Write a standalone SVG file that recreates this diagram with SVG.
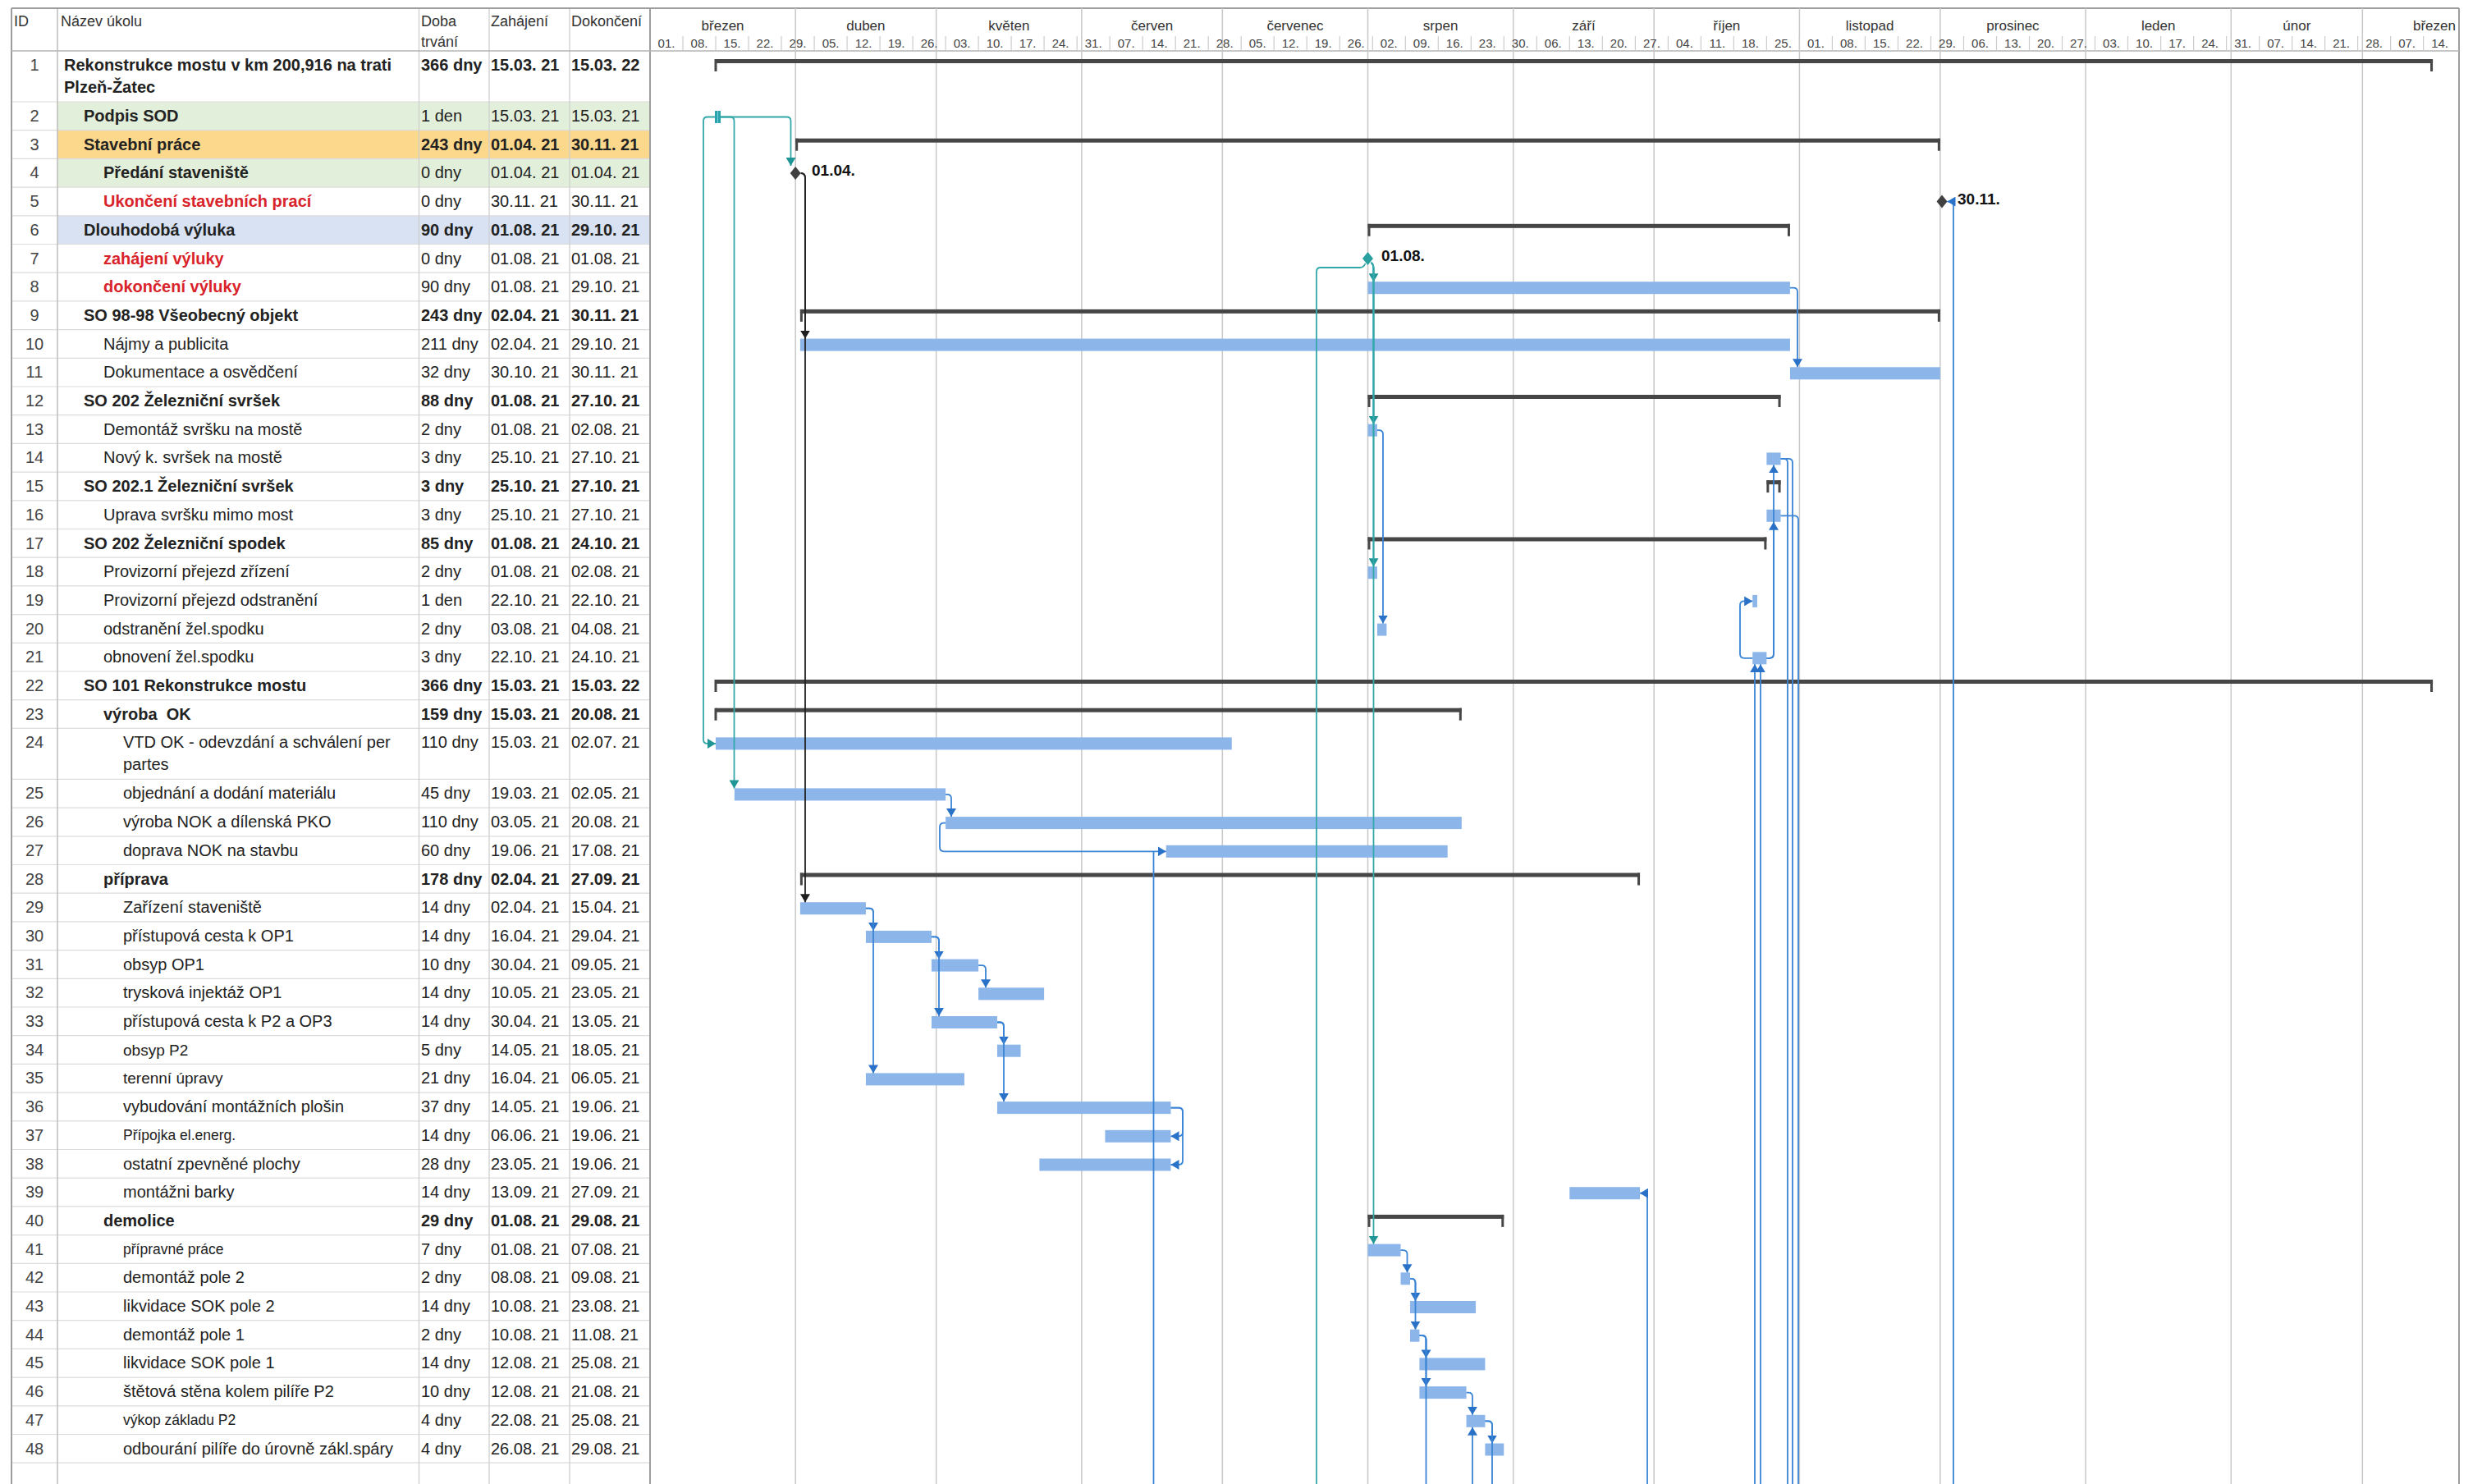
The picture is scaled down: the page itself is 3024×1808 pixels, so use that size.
<svg xmlns="http://www.w3.org/2000/svg" width="3024" height="1808" viewBox="0 0 3024 1808">
<style>
text{font-family:'Liberation Sans',Arial,'DejaVu Sans',sans-serif;fill:#222}
.t{font-size:20px}
.b{font-weight:bold}
.r{fill:#d9232b}
.sm{font-size:17.5px}
.id{text-anchor:middle;fill:#444}
.hd{font-size:18px;fill:#333}
.mo{font-size:17px;text-anchor:middle;fill:#333}
.wk{font-size:15px;text-anchor:middle;fill:#444}
.ml{font-size:19px;font-weight:bold;fill:#111}
.bar{fill:#8cb6ea}
.sum{fill:#464646}
.grid{stroke:#c8c8c8;stroke-width:1.5;fill:none}
.sep{stroke:#dcdcdc;stroke-width:1.2;fill:none}
.col{stroke:#cfcfcf;stroke-width:1.3;fill:none}
.brd{stroke:#9e9e9e;stroke-width:2;fill:none}
.c{fill:none;stroke-width:1.8}
.ct{stroke:#33a8aa}
.cb{stroke:#3a84d6}
.ck{stroke:#222}
</style>
<defs>
<marker id="aT" markerUnits="userSpaceOnUse" markerWidth="11" markerHeight="12" refX="10" refY="6" orient="auto"><path d="M0,0 L10,6 L0,12 z" fill="#1f9596"/></marker>
<marker id="aB" markerUnits="userSpaceOnUse" markerWidth="11" markerHeight="12" refX="10" refY="6" orient="auto"><path d="M0,0 L10,6 L0,12 z" fill="#2a72c8"/></marker>
<marker id="aK" markerUnits="userSpaceOnUse" markerWidth="11" markerHeight="12" refX="10" refY="6" orient="auto"><path d="M0,0 L10,6 L0,12 z" fill="#1e1e1e"/></marker>
</defs>
<rect x="0" y="0" width="3024" height="1808" fill="#ffffff"/>

<g id="row-backgrounds">
<rect x="70" y="124" width="722" height="34.7" fill="#e2efda"/>
<rect x="70" y="158.7" width="722" height="34.7" fill="#fbd88c"/>
<rect x="70" y="193.4" width="722" height="34.7" fill="#e2efda"/>
<rect x="70" y="262.8" width="722" height="34.7" fill="#d9e2f3"/>
</g>

<g id="table-grid">
<path class="sep" d="M14,124H792M14,158.7H792M14,193.4H792M14,228.1H792M14,262.8H792M14,297.5H792M14,332.2H792M14,366.9H792M14,401.6H792M14,436.3H792M14,471H792M14,505.7H792M14,540.4H792M14,575.1H792M14,609.8H792M14,644.5H792M14,679.2H792M14,713.9H792M14,748.6H792M14,783.3H792M14,818H792M14,852.7H792M14,887.4H792M14,949.4H792M14,984.1H792M14,1018.8H792M14,1053.5H792M14,1088.2H792M14,1122.9H792M14,1157.6H792M14,1192.3H792M14,1227H792M14,1261.7H792M14,1296.4H792M14,1331.1H792M14,1365.8H792M14,1400.5H792M14,1435.2H792M14,1469.9H792M14,1504.6H792M14,1539.3H792M14,1574H792M14,1608.7H792M14,1643.4H792M14,1678.1H792M14,1712.8H792M14,1747.5H792M14,1782.2H792"/>
<path class="col" d="M510.5,10V1808M596,10V1808M694,10V1808"/>
<path d="M70,10V1808" stroke="#bdbdbd" stroke-width="1.5" fill="none"/>
<path class="brd" d="M14,10V1808M792,10V1808M2996,10V1808M14,10H2996"/>
<path d="M14,62H2996" stroke="#b5b5b5" stroke-width="1.5" fill="none"/>
<text class="hd" x="17" y="32">ID</text>
<text class="hd" x="74" y="32">Název úkolu</text>
<text class="hd" x="513" y="32">Doba</text>
<text class="hd" x="513" y="57">trvání</text>
<text class="hd" x="598" y="32">Zahájení</text>
<text class="hd" x="696" y="32">Dokončení</text>
</g>

<g id="timescale">
<path class="grid" d="M969.17,10V1808M1140.65,10V1808M1317.85,10V1808M1489.33,10V1808M1666.52,10V1808M1843.72,10V1808M2015.2,10V1808M2192.4,10V1808M2363.88,10V1808M2541.07,10V1808M2718.27,10V1808M2878.32,10V1808"/>
<path stroke="#cccccc" stroke-width="1.2" fill="none" d="M832,44V62M872,44V62M912,44V62M952,44V62M992.1,44V62M1032.1,44V62M1072.1,44V62M1112.1,44V62M1152.1,44V62M1192.1,44V62M1232.1,44V62M1272.1,44V62M1312.2,44V62M1352.2,44V62M1392.2,44V62M1432.2,44V62M1472.2,44V62M1512.2,44V62M1552.2,44V62M1592.2,44V62M1632.3,44V62M1672.3,44V62M1712.3,44V62M1752.3,44V62M1792.3,44V62M1832.3,44V62M1872.3,44V62M1912.3,44V62M1952.3,44V62M1992.4,44V62M2032.4,44V62M2072.4,44V62M2112.4,44V62M2152.4,44V62M2192.4,44V62M2232.4,44V62M2272.4,44V62M2312.5,44V62M2352.5,44V62M2392.5,44V62M2432.5,44V62M2472.5,44V62M2512.5,44V62M2552.5,44V62M2592.5,44V62M2632.6,44V62M2672.6,44V62M2712.6,44V62M2752.6,44V62M2792.6,44V62M2832.6,44V62M2872.6,44V62M2912.6,44V62M2952.6,44V62"/>
<text class="mo" x="880.6" y="37">březen</text>
<text class="mo" x="1054.9" y="37">duben</text>
<text class="mo" x="1229.3" y="37">květen</text>
<text class="mo" x="1403.6" y="37">červen</text>
<text class="mo" x="1577.9" y="37">červenec</text>
<text class="mo" x="1755.1" y="37">srpen</text>
<text class="mo" x="1929.5" y="37">září</text>
<text class="mo" x="2103.8" y="37">říjen</text>
<text class="mo" x="2278.1" y="37">listopad</text>
<text class="mo" x="2452.5" y="37">prosinec</text>
<text class="mo" x="2629.7" y="37">leden</text>
<text class="mo" x="2798.3" y="37">únor</text>
<text class="mo" x="2966" y="37">březen</text>
<text class="wk" x="812" y="58">01.</text><text class="wk" x="852" y="58">08.</text><text class="wk" x="892" y="58">15.</text><text class="wk" x="932" y="58">22.</text><text class="wk" x="972" y="58">29.</text>
<text class="wk" x="1012.1" y="58">05.</text><text class="wk" x="1052.1" y="58">12.</text><text class="wk" x="1092.1" y="58">19.</text><text class="wk" x="1132.1" y="58">26.</text>
<text class="wk" x="1172.1" y="58">03.</text><text class="wk" x="1212.1" y="58">10.</text><text class="wk" x="1252.1" y="58">17.</text><text class="wk" x="1292.1" y="58">24.</text><text class="wk" x="1332.2" y="58">31.</text>
<text class="wk" x="1372.2" y="58">07.</text><text class="wk" x="1412.2" y="58">14.</text><text class="wk" x="1452.2" y="58">21.</text><text class="wk" x="1492.2" y="58">28.</text>
<text class="wk" x="1532.2" y="58">05.</text><text class="wk" x="1572.2" y="58">12.</text><text class="wk" x="1612.2" y="58">19.</text><text class="wk" x="1652.3" y="58">26.</text>
<text class="wk" x="1692.3" y="58">02.</text><text class="wk" x="1732.3" y="58">09.</text><text class="wk" x="1772.3" y="58">16.</text><text class="wk" x="1812.3" y="58">23.</text><text class="wk" x="1852.3" y="58">30.</text>
<text class="wk" x="1892.3" y="58">06.</text><text class="wk" x="1932.3" y="58">13.</text><text class="wk" x="1972.3" y="58">20.</text><text class="wk" x="2012.4" y="58">27.</text>
<text class="wk" x="2052.4" y="58">04.</text><text class="wk" x="2092.4" y="58">11.</text><text class="wk" x="2132.4" y="58">18.</text><text class="wk" x="2172.4" y="58">25.</text>
<text class="wk" x="2212.4" y="58">01.</text><text class="wk" x="2252.4" y="58">08.</text><text class="wk" x="2292.4" y="58">15.</text><text class="wk" x="2332.5" y="58">22.</text><text class="wk" x="2372.5" y="58">29.</text>
<text class="wk" x="2412.5" y="58">06.</text><text class="wk" x="2452.5" y="58">13.</text><text class="wk" x="2492.5" y="58">20.</text><text class="wk" x="2532.5" y="58">27.</text>
<text class="wk" x="2572.5" y="58">03.</text><text class="wk" x="2612.5" y="58">10.</text><text class="wk" x="2652.6" y="58">17.</text><text class="wk" x="2692.6" y="58">24.</text><text class="wk" x="2732.6" y="58">31.</text>
<text class="wk" x="2772.6" y="58">07.</text><text class="wk" x="2812.6" y="58">14.</text><text class="wk" x="2852.6" y="58">21.</text><text class="wk" x="2892.6" y="58">28.</text>
<text class="wk" x="2932.6" y="58">07.</text><text class="wk" x="2972.6" y="58">14.</text>
</g>

<g id="task-1"><text class="t id" x="42" y="86">1</text><text class="t b" x="78" y="86">Rekonstrukce mostu v km 200,916 na trati</text><text class="t b" x="78" y="113">Plzeň-Žatec</text><text class="t b" x="513" y="86">366 dny</text><text class="t b" x="598" y="86">15.03. 21</text><text class="t b" x="696" y="86">15.03. 22</text>
<rect class="sum" x="872" y="72" width="2092.06" height="5"/><rect class="sum" x="870.5" y="72" width="3" height="15"/><rect class="sum" x="2961.06" y="72" width="3" height="15"/></g>
<g id="task-2"><text class="t id" x="42" y="148">2</text><text class="t b" x="102" y="148">Podpis SOD</text><text class="t" x="513" y="148">1 den</text><text class="t" x="598" y="148">15.03. 21</text><text class="t" x="696" y="148">15.03. 21</text>
<rect x="871" y="135" width="7" height="15" fill="#27a2ae"/><rect x="874" y="135" width="1" height="15" fill="#7fd0d6"/></g>
<g id="task-3"><text class="t id" x="42" y="182.7">3</text><text class="t b" x="102" y="182.7">Stavební práce</text><text class="t b" x="513" y="182.7">243 dny</text><text class="t b" x="598" y="182.7">01.04. 21</text><text class="t b" x="696" y="182.7">30.11. 21</text>
<rect class="sum" x="969.17" y="168.7" width="1394.71" height="5"/><rect class="sum" x="969.17" y="168.7" width="3" height="15"/><rect class="sum" x="2360.88" y="168.7" width="3" height="15"/></g>
<g id="task-4"><text class="t id" x="42" y="217.4">4</text><text class="t b" x="126" y="217.4">Předání staveniště</text><text class="t" x="513" y="217.4">0 dny</text><text class="t" x="598" y="217.4">01.04. 21</text><text class="t" x="696" y="217.4">01.04. 21</text>
<polygon points="969.2,203 975.7,211 969.2,219 962.7,211" fill="#404040"/><text class="ml" x="989" y="214">01.04.</text></g>
<g id="task-5"><text class="t id" x="42" y="252.1">5</text><text class="t b r" x="126" y="252.1">Ukončení stavebních prací</text><text class="t" x="513" y="252.1">0 dny</text><text class="t" x="598" y="252.1">30.11. 21</text><text class="t" x="696" y="252.1">30.11. 21</text>
<polygon points="2366,237.6 2372.5,245.6 2366,253.6 2359.5,245.6" fill="#404040"/><text class="ml" x="2385" y="249">30.11.</text></g>
<g id="task-6"><text class="t id" x="42" y="286.8">6</text><text class="t b" x="102" y="286.8">Dlouhodobá výluka</text><text class="t b" x="513" y="286.8">90 dny</text><text class="t b" x="598" y="286.8">01.08. 21</text><text class="t b" x="696" y="286.8">29.10. 21</text>
<rect class="sum" x="1666.52" y="272.8" width="514.44" height="5"/><rect class="sum" x="1666.52" y="272.8" width="3" height="15"/><rect class="sum" x="2177.96" y="272.8" width="3" height="15"/></g>
<g id="task-7"><text class="t id" x="42" y="321.5">7</text><text class="t b r" x="126" y="321.5">zahájení výluky</text><text class="t" x="513" y="321.5">0 dny</text><text class="t" x="598" y="321.5">01.08. 21</text><text class="t" x="696" y="321.5">01.08. 21</text>
<polygon points="1666.5,307 1673,315 1666.5,323 1660,315" fill="#2a9fa0"/><text class="ml" x="1683" y="318">01.08.</text></g>
<g id="task-8"><text class="t id" x="42" y="356.2">8</text><text class="t b r" x="126" y="356.2">dokončení výluky</text><text class="t" x="513" y="356.2">90 dny</text><text class="t" x="598" y="356.2">01.08. 21</text><text class="t" x="696" y="356.2">29.10. 21</text>
<rect class="bar" x="1666.52" y="343.2" width="514.44" height="15"/></g>
<g id="task-9"><text class="t id" x="42" y="390.9">9</text><text class="t b" x="102" y="390.9">SO 98-98 Všeobecný objekt</text><text class="t b" x="513" y="390.9">243 dny</text><text class="t b" x="598" y="390.9">02.04. 21</text><text class="t b" x="696" y="390.9">30.11. 21</text>
<rect class="sum" x="974.89" y="376.9" width="1388.99" height="5"/><rect class="sum" x="974.89" y="376.9" width="3" height="15"/><rect class="sum" x="2360.88" y="376.9" width="3" height="15"/></g>
<g id="task-10"><text class="t id" x="42" y="425.6">10</text><text class="t" x="126" y="425.6">Nájmy a publicita</text><text class="t" x="513" y="425.6">211 dny</text><text class="t" x="598" y="425.6">02.04. 21</text><text class="t" x="696" y="425.6">29.10. 21</text>
<rect class="bar" x="974.89" y="412.6" width="1206.07" height="15"/></g>
<g id="task-11"><text class="t id" x="42" y="460.3">11</text><text class="t" x="126" y="460.3">Dokumentace a osvědčení</text><text class="t" x="513" y="460.3">32 dny</text><text class="t" x="598" y="460.3">30.10. 21</text><text class="t" x="696" y="460.3">30.11. 21</text>
<rect class="bar" x="2180.96" y="447.3" width="182.92" height="15"/></g>
<g id="task-12"><text class="t id" x="42" y="495">12</text><text class="t b" x="102" y="495">SO 202 Železniční svršek</text><text class="t b" x="513" y="495">88 dny</text><text class="t b" x="598" y="495">01.08. 21</text><text class="t b" x="696" y="495">27.10. 21</text>
<rect class="sum" x="1666.52" y="481" width="503.01" height="5"/><rect class="sum" x="1666.52" y="481" width="3" height="15"/><rect class="sum" x="2166.53" y="481" width="3" height="15"/></g>
<g id="task-13"><text class="t id" x="42" y="529.7">13</text><text class="t" x="126" y="529.7">Demontáž svršku na mostě</text><text class="t" x="513" y="529.7">2 dny</text><text class="t" x="598" y="529.7">01.08. 21</text><text class="t" x="696" y="529.7">02.08. 21</text>
<rect class="bar" x="1666.52" y="516.7" width="11.44" height="15"/></g>
<g id="task-14"><text class="t id" x="42" y="564.4">14</text><text class="t" x="126" y="564.4">Nový k. svršek na mostě</text><text class="t" x="513" y="564.4">3 dny</text><text class="t" x="598" y="564.4">25.10. 21</text><text class="t" x="696" y="564.4">27.10. 21</text>
<rect class="bar" x="2152.38" y="551.4" width="17.15" height="15"/></g>
<g id="task-15"><text class="t id" x="42" y="599.1">15</text><text class="t b" x="102" y="599.1">SO 202.1 Železniční svršek</text><text class="t b" x="513" y="599.1">3 dny</text><text class="t b" x="598" y="599.1">25.10. 21</text><text class="t b" x="696" y="599.1">27.10. 21</text>
<rect class="sum" x="2152.38" y="585.1" width="17.15" height="5"/><rect class="sum" x="2152.38" y="585.1" width="3" height="15"/><rect class="sum" x="2166.53" y="585.1" width="3" height="15"/></g>
<g id="task-16"><text class="t id" x="42" y="633.8">16</text><text class="t" x="126" y="633.8">Uprava svršku mimo most</text><text class="t" x="513" y="633.8">3 dny</text><text class="t" x="598" y="633.8">25.10. 21</text><text class="t" x="696" y="633.8">27.10. 21</text>
<rect class="bar" x="2152.38" y="620.8" width="17.15" height="15"/></g>
<g id="task-17"><text class="t id" x="42" y="668.5">17</text><text class="t b" x="102" y="668.5">SO 202 Železniční spodek</text><text class="t b" x="513" y="668.5">85 dny</text><text class="t b" x="598" y="668.5">01.08. 21</text><text class="t b" x="696" y="668.5">24.10. 21</text>
<rect class="sum" x="1666.52" y="654.5" width="485.86" height="5"/><rect class="sum" x="1666.52" y="654.5" width="3" height="15"/><rect class="sum" x="2149.38" y="654.5" width="3" height="15"/></g>
<g id="task-18"><text class="t id" x="42" y="703.2">18</text><text class="t" x="126" y="703.2">Provizorní přejezd zřízení</text><text class="t" x="513" y="703.2">2 dny</text><text class="t" x="598" y="703.2">01.08. 21</text><text class="t" x="696" y="703.2">02.08. 21</text>
<rect class="bar" x="1666.52" y="690.2" width="11.44" height="15"/></g>
<g id="task-19"><text class="t id" x="42" y="737.9">19</text><text class="t" x="126" y="737.9">Provizorní přejezd odstranění</text><text class="t" x="513" y="737.9">1 den</text><text class="t" x="598" y="737.9">22.10. 21</text><text class="t" x="696" y="737.9">22.10. 21</text>
<rect class="bar" x="2135.24" y="724.9" width="5.71" height="15"/></g>
<g id="task-20"><text class="t id" x="42" y="772.6">20</text><text class="t" x="126" y="772.6">odstranění žel.spodku</text><text class="t" x="513" y="772.6">2 dny</text><text class="t" x="598" y="772.6">03.08. 21</text><text class="t" x="696" y="772.6">04.08. 21</text>
<rect class="bar" x="1677.96" y="759.6" width="11.44" height="15"/></g>
<g id="task-21"><text class="t id" x="42" y="807.3">21</text><text class="t" x="126" y="807.3">obnovení žel.spodku</text><text class="t" x="513" y="807.3">3 dny</text><text class="t" x="598" y="807.3">22.10. 21</text><text class="t" x="696" y="807.3">24.10. 21</text>
<rect class="bar" x="2135.24" y="794.3" width="17.14" height="15"/></g>
<g id="task-22"><text class="t id" x="42" y="842">22</text><text class="t b" x="102" y="842">SO 101 Rekonstrukce mostu</text><text class="t b" x="513" y="842">366 dny</text><text class="t b" x="598" y="842">15.03. 21</text><text class="t b" x="696" y="842">15.03. 22</text>
<rect class="sum" x="872" y="828" width="2092.06" height="5"/><rect class="sum" x="870.5" y="828" width="3" height="15"/><rect class="sum" x="2961.06" y="828" width="3" height="15"/></g>
<g id="task-23"><text class="t id" x="42" y="876.7">23</text><text class="t b" x="126" y="876.7" xml:space="preserve">výroba  OK</text><text class="t b" x="513" y="876.7">159 dny</text><text class="t b" x="598" y="876.7">15.03. 21</text><text class="t b" x="696" y="876.7">20.08. 21</text>
<rect class="sum" x="872" y="862.7" width="908.84" height="5"/><rect class="sum" x="870.5" y="862.7" width="3" height="15"/><rect class="sum" x="1777.84" y="862.7" width="3" height="15"/></g>
<g id="task-24"><text class="t id" x="42" y="911.4">24</text><text class="t" x="150" y="911.4">VTD OK - odevzdání a schválení per</text><text class="t" x="150" y="938.4">partes</text><text class="t" x="513" y="911.4">110 dny</text><text class="t" x="598" y="911.4">15.03. 21</text><text class="t" x="696" y="911.4">02.07. 21</text>
<rect class="bar" x="872" y="898.4" width="628.76" height="15"/></g>
<g id="task-25"><text class="t id" x="42" y="973.4">25</text><text class="t" x="150" y="973.4">objednání a dodání materiálu</text><text class="t" x="513" y="973.4">45 dny</text><text class="t" x="598" y="973.4">19.03. 21</text><text class="t" x="696" y="973.4">02.05. 21</text>
<rect class="bar" x="894.86" y="960.4" width="257.22" height="15"/></g>
<g id="task-26"><text class="t id" x="42" y="1008.1">26</text><text class="t" x="150" y="1008.1">výroba NOK a dílenská PKO</text><text class="t" x="513" y="1008.1">110 dny</text><text class="t" x="598" y="1008.1">03.05. 21</text><text class="t" x="696" y="1008.1">20.08. 21</text>
<rect class="bar" x="1152.08" y="995.1" width="628.76" height="15"/></g>
<g id="task-27"><text class="t id" x="42" y="1042.8">27</text><text class="t" x="150" y="1042.8">doprava NOK na stavbu</text><text class="t" x="513" y="1042.8">60 dny</text><text class="t" x="598" y="1042.8">19.06. 21</text><text class="t" x="696" y="1042.8">17.08. 21</text>
<rect class="bar" x="1420.74" y="1029.8" width="342.96" height="15"/></g>
<g id="task-28"><text class="t id" x="42" y="1077.5">28</text><text class="t b" x="126" y="1077.5">příprava</text><text class="t b" x="513" y="1077.5">178 dny</text><text class="t b" x="598" y="1077.5">02.04. 21</text><text class="t b" x="696" y="1077.5">27.09. 21</text>
<rect class="sum" x="974.89" y="1063.5" width="1023.16" height="5"/><rect class="sum" x="974.89" y="1063.5" width="3" height="15"/><rect class="sum" x="1995.05" y="1063.5" width="3" height="15"/></g>
<g id="task-29"><text class="t id" x="42" y="1112.2">29</text><text class="t" x="150" y="1112.2">Zařízení staveniště</text><text class="t" x="513" y="1112.2">14 dny</text><text class="t" x="598" y="1112.2">02.04. 21</text><text class="t" x="696" y="1112.2">15.04. 21</text>
<rect class="bar" x="974.89" y="1099.2" width="80.02" height="15"/></g>
<g id="task-30"><text class="t id" x="42" y="1146.9">30</text><text class="t" x="150" y="1146.9">přístupová cesta k OP1</text><text class="t" x="513" y="1146.9">14 dny</text><text class="t" x="598" y="1146.9">16.04. 21</text><text class="t" x="696" y="1146.9">29.04. 21</text>
<rect class="bar" x="1054.91" y="1133.9" width="80.03" height="15"/></g>
<g id="task-31"><text class="t id" x="42" y="1181.6">31</text><text class="t" x="150" y="1181.6">obsyp OP1</text><text class="t" x="513" y="1181.6">10 dny</text><text class="t" x="598" y="1181.6">30.04. 21</text><text class="t" x="696" y="1181.6">09.05. 21</text>
<rect class="bar" x="1134.94" y="1168.6" width="57.16" height="15"/></g>
<g id="task-32"><text class="t id" x="42" y="1216.3">32</text><text class="t" x="150" y="1216.3">trysková injektáž OP1</text><text class="t" x="513" y="1216.3">14 dny</text><text class="t" x="598" y="1216.3">10.05. 21</text><text class="t" x="696" y="1216.3">23.05. 21</text>
<rect class="bar" x="1192.1" y="1203.3" width="80.02" height="15"/></g>
<g id="task-33"><text class="t id" x="42" y="1251">33</text><text class="t" x="150" y="1251">přístupová cesta k P2 a OP3</text><text class="t" x="513" y="1251">14 dny</text><text class="t" x="598" y="1251">30.04. 21</text><text class="t" x="696" y="1251">13.05. 21</text>
<rect class="bar" x="1134.94" y="1238" width="80.02" height="15"/></g>
<g id="task-34"><text class="t id" x="42" y="1285.7">34</text><text class="t" x="150" y="1285.7" style="font-size:19px">obsyp P2</text><text class="t" x="513" y="1285.7">5 dny</text><text class="t" x="598" y="1285.7">14.05. 21</text><text class="t" x="696" y="1285.7">18.05. 21</text>
<rect class="bar" x="1214.96" y="1272.7" width="28.58" height="15"/></g>
<g id="task-35"><text class="t id" x="42" y="1320.4">35</text><text class="t" x="150" y="1320.4" style="font-size:19px">terenní úpravy</text><text class="t" x="513" y="1320.4">21 dny</text><text class="t" x="598" y="1320.4">16.04. 21</text><text class="t" x="696" y="1320.4">06.05. 21</text>
<rect class="bar" x="1054.91" y="1307.4" width="120.04" height="15"/></g>
<g id="task-36"><text class="t id" x="42" y="1355.1">36</text><text class="t" x="150" y="1355.1">vybudování montážních plošin</text><text class="t" x="513" y="1355.1">37 dny</text><text class="t" x="598" y="1355.1">14.05. 21</text><text class="t" x="696" y="1355.1">19.06. 21</text>
<rect class="bar" x="1214.96" y="1342.1" width="211.49" height="15"/></g>
<g id="task-37"><text class="t id" x="42" y="1389.8">37</text><text class="t sm" x="150" y="1388.8">Přípojka el.energ.</text><text class="t" x="513" y="1389.8">14 dny</text><text class="t" x="598" y="1389.8">06.06. 21</text><text class="t" x="696" y="1389.8">19.06. 21</text>
<rect class="bar" x="1346.43" y="1376.8" width="80.02" height="15"/></g>
<g id="task-38"><text class="t id" x="42" y="1424.5">38</text><text class="t" x="150" y="1424.5">ostatní zpevněné plochy</text><text class="t" x="513" y="1424.5">28 dny</text><text class="t" x="598" y="1424.5">23.05. 21</text><text class="t" x="696" y="1424.5">19.06. 21</text>
<rect class="bar" x="1266.4" y="1411.5" width="160.05" height="15"/></g>
<g id="task-39"><text class="t id" x="42" y="1459.2">39</text><text class="t" x="150" y="1459.2">montážni barky</text><text class="t" x="513" y="1459.2">14 dny</text><text class="t" x="598" y="1459.2">13.09. 21</text><text class="t" x="696" y="1459.2">27.09. 21</text>
<rect class="bar" x="1912.31" y="1446.2" width="85.74" height="15"/></g>
<g id="task-40"><text class="t id" x="42" y="1493.9">40</text><text class="t b" x="126" y="1493.9">demolice</text><text class="t b" x="513" y="1493.9">29 dny</text><text class="t b" x="598" y="1493.9">01.08. 21</text><text class="t b" x="696" y="1493.9">29.08. 21</text>
<rect class="sum" x="1666.52" y="1479.9" width="165.77" height="5"/><rect class="sum" x="1666.52" y="1479.9" width="3" height="15"/><rect class="sum" x="1829.29" y="1479.9" width="3" height="15"/></g>
<g id="task-41"><text class="t id" x="42" y="1528.6">41</text><text class="t sm" x="150" y="1527.6">přípravné práce</text><text class="t" x="513" y="1528.6">7 dny</text><text class="t" x="598" y="1528.6">01.08. 21</text><text class="t" x="696" y="1528.6">07.08. 21</text>
<rect class="bar" x="1666.52" y="1515.6" width="40.02" height="15"/></g>
<g id="task-42"><text class="t id" x="42" y="1563.3">42</text><text class="t" x="150" y="1563.3">demontáž pole 2</text><text class="t" x="513" y="1563.3">2 dny</text><text class="t" x="598" y="1563.3">08.08. 21</text><text class="t" x="696" y="1563.3">09.08. 21</text>
<rect class="bar" x="1706.54" y="1550.3" width="11.43" height="15"/></g>
<g id="task-43"><text class="t id" x="42" y="1598">43</text><text class="t" x="150" y="1598">likvidace SOK pole 2</text><text class="t" x="513" y="1598">14 dny</text><text class="t" x="598" y="1598">10.08. 21</text><text class="t" x="696" y="1598">23.08. 21</text>
<rect class="bar" x="1717.97" y="1585" width="80.02" height="15"/></g>
<g id="task-44"><text class="t id" x="42" y="1632.7">44</text><text class="t" x="150" y="1632.7">demontáž pole 1</text><text class="t" x="513" y="1632.7">2 dny</text><text class="t" x="598" y="1632.7">10.08. 21</text><text class="t" x="696" y="1632.7">11.08. 21</text>
<rect class="bar" x="1717.97" y="1619.7" width="11.43" height="15"/></g>
<g id="task-45"><text class="t id" x="42" y="1667.4">45</text><text class="t" x="150" y="1667.4">likvidace SOK pole 1</text><text class="t" x="513" y="1667.4">14 dny</text><text class="t" x="598" y="1667.4">12.08. 21</text><text class="t" x="696" y="1667.4">25.08. 21</text>
<rect class="bar" x="1729.4" y="1654.4" width="80.02" height="15"/></g>
<g id="task-46"><text class="t id" x="42" y="1702.1">46</text><text class="t" x="150" y="1702.1">štětová stěna kolem pilíře P2</text><text class="t" x="513" y="1702.1">10 dny</text><text class="t" x="598" y="1702.1">12.08. 21</text><text class="t" x="696" y="1702.1">21.08. 21</text>
<rect class="bar" x="1729.4" y="1689.1" width="57.16" height="15"/></g>
<g id="task-47"><text class="t id" x="42" y="1736.8">47</text><text class="t sm" x="150" y="1735.8">výkop základu P2</text><text class="t" x="513" y="1736.8">4 dny</text><text class="t" x="598" y="1736.8">22.08. 21</text><text class="t" x="696" y="1736.8">25.08. 21</text>
<rect class="bar" x="1786.56" y="1723.8" width="22.86" height="15"/></g>
<g id="task-48"><text class="t id" x="42" y="1771.5">48</text><text class="t" x="150" y="1771.5">odbourání pilíře do úrovně zákl.spáry</text><text class="t" x="513" y="1771.5">4 dny</text><text class="t" x="598" y="1771.5">26.08. 21</text><text class="t" x="696" y="1771.5">29.08. 21</text>
<rect class="bar" x="1809.42" y="1758.5" width="22.87" height="15"/></g>

<g id="connectors">
<path class="c ct" marker-end="url(#aT)" d="M877.7,142.5 H958.5 Q963.5,142.5 963.5,147.5 V202"/>
<path class="c ct" marker-end="url(#aT)" d="M877.7,142.5 H889.5 Q894.5,142.5 894.5,147.5 V960.4"/>
<path class="c ct" marker-end="url(#aT)" d="M871,142.5 H862 Q857,142.5 857,147.5 V900.9 Q857,905.9 862,905.9 H872"/>
<path class="c ct" marker-end="url(#aT)" d="M1670.5,320 Q1673.5,322 1673.5,327 V343.2"/>
<path class="c ct" marker-end="url(#aT)" d="M1670.5,320 Q1673.5,322 1673.5,327 V516.7"/>
<path class="c ct" marker-end="url(#aT)" d="M1670.5,320 Q1673.5,322 1673.5,327 V690.2"/>
<path class="c ct" marker-end="url(#aT)" d="M1670.5,320 Q1673.5,322 1673.5,327 V1515.6"/>
<path class="c ct" d="M1663.5,321 Q1661.5,326 1656.5,326 H1609 Q1604,326 1604,331 V1808"/>
<path class="c ck" marker-end="url(#aK)" d="M975.7,211 Q981,211 981,217 V412.6"/>
<path class="c ck" marker-end="url(#aK)" d="M975.7,211 Q981,211 981,217 V1099.2"/>
<path class="c cb" marker-end="url(#aB)" d="M1152.1,967.9 H1154 Q1159,967.9 1159,972.9 V995.1"/>
<path class="c cb" marker-end="url(#aB)" d="M1152.1,1002.6 H1150 Q1145,1002.6 1145,1007.6 V1032.3 Q1145,1037.3 1150,1037.3 H1420.7"/>
<path class="c cb" d="M1405.5,1037.3 V1808"/>
<path class="c cb" marker-end="url(#aB)" d="M1054.9,1106.7 H1059 Q1064,1106.7 1064,1111.7 V1133.9"/>
<path class="c cb" marker-end="url(#aB)" d="M1054.9,1106.7 H1059 Q1064,1106.7 1064,1111.7 V1307.4"/>
<path class="c cb" marker-end="url(#aB)" d="M1134.9,1141.4 H1139 Q1144,1141.4 1144,1146.4 V1168.6"/>
<path class="c cb" marker-end="url(#aB)" d="M1134.9,1141.4 H1139 Q1144,1141.4 1144,1146.4 V1238"/>
<path class="c cb" marker-end="url(#aB)" d="M1192.1,1176.1 H1196 Q1201,1176.1 1201,1181.1 V1203.3"/>
<path class="c cb" marker-end="url(#aB)" d="M1215,1245.5 H1218 Q1223,1245.5 1223,1250.5 V1272.7"/>
<path class="c cb" marker-end="url(#aB)" d="M1215,1245.5 H1218 Q1223,1245.5 1223,1250.5 V1342.1"/>
<path class="c cb" marker-end="url(#aB)" d="M1426.5,1349.6 H1436 Q1441,1349.6 1441,1354.6 V1379.3 Q1441,1384.3 1436,1384.3 H1426.5"/>
<path class="c cb" marker-end="url(#aB)" d="M1426.5,1349.6 H1436 Q1441,1349.6 1441,1354.6 V1414 Q1441,1419 1436,1419 H1426.5"/>
<path class="c cb" marker-end="url(#aB)" d="M2007,1808 V1458.7 Q2007,1453.7 2002,1453.7 H1998"/>
<path class="c cb" marker-end="url(#aB)" d="M1706.5,1523.1 H1709.5 Q1714.5,1523.1 1714.5,1528.1 V1550.3"/>
<path class="c cb" marker-end="url(#aB)" d="M1718,1557.8 H1719.5 Q1724.5,1557.8 1724.5,1562.8 V1585"/>
<path class="c cb" marker-end="url(#aB)" d="M1718,1557.8 H1719.5 Q1724.5,1557.8 1724.5,1562.8 V1619.7"/>
<path class="c cb" marker-end="url(#aB)" d="M1729.4,1627.2 H1732.5 Q1737.5,1627.2 1737.5,1632.2 V1654.4"/>
<path class="c cb" marker-end="url(#aB)" d="M1729.4,1627.2 H1732.5 Q1737.5,1627.2 1737.5,1632.2 V1689.1"/>
<path class="c cb" d="M1729.4,1627.2 H1732.5 Q1737.5,1627.2 1737.5,1632.2 V1808"/>
<path class="c cb" marker-end="url(#aB)" d="M1786.6,1696.6 H1789 Q1794,1696.6 1794,1701.6 V1723.8"/>
<path class="c cb" marker-end="url(#aB)" d="M1794,1808 V1738.8"/>
<path class="c cb" marker-end="url(#aB)" d="M1809.4,1731.3 H1813 Q1818,1731.3 1818,1736.3 V1758.5"/>
<path class="c cb" d="M1809.4,1731.3 H1813 Q1818,1731.3 1818,1736.3 V1808"/>
<path class="c cb" marker-end="url(#aB)" d="M1678,524.2 H1680 Q1685,524.2 1685,529.2 V759.6"/>
<path class="c cb" marker-end="url(#aB)" d="M2181,350.7 H2185 Q2190,350.7 2190,355.7 V447.3"/>
<path class="c cb" marker-end="url(#aB)" d="M2152.4,801.8 H2156 Q2161,801.8 2161,796.8 V566.4"/>
<path class="c cb" marker-end="url(#aB)" d="M2152.4,801.8 H2156 Q2161,801.8 2161,796.8 V635.8"/>
<path class="c cb" marker-end="url(#aB)" d="M2135.2,801.8 H2125 Q2120,801.8 2120,796.8 V737.4 Q2120,732.4 2125,732.4 H2135.2"/>
<path class="c cb" marker-end="url(#aB)" d="M2138,1808 V809.3"/>
<path class="c cb" marker-end="url(#aB)" d="M2145,1808 V809.3"/>
<path class="c cb" d="M2169.5,558.9 H2173 Q2178,558.9 2178,563.9 V1808"/>
<path class="c cb" d="M2169.5,558.9 H2179 Q2184,558.9 2184,563.9 V1808"/>
<path class="c cb" d="M2169.5,628.3 H2186 Q2191,628.3 2191,633.3 V1808"/>
<path class="c cb" marker-end="url(#aB)" d="M2380,1808 V250.6 Q2380,245.6 2375,245.6 H2372.5"/>
</g>
</svg>
